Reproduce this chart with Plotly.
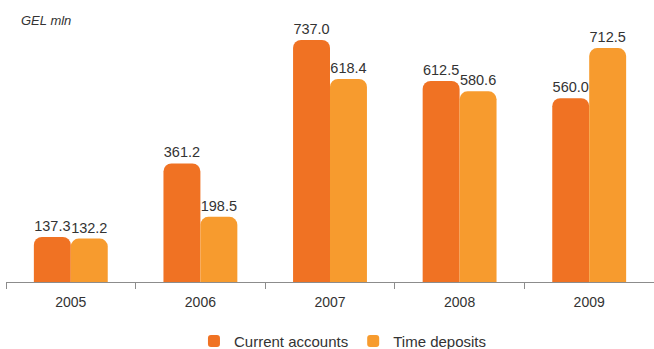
import plotly.graph_objects as go

# Deposits by type, GEL mln
years = ["2005", "2006", "2007", "2008", "2009"]
current_accounts = [137.3, 361.2, 737.0, 612.5, 560.0]
time_deposits = [132.2, 198.5, 618.4, 580.6, 712.5]

FONT = "Liberation Sans, Arial, Helvetica, sans-serif"
TEXT = "#333333"

fig = go.Figure()
fig.add_trace(go.Bar(
    name="Current accounts", x=years, y=current_accounts,
    marker=dict(color="#F07223", cornerradius=8, line=dict(width=0)),
    text=[f"{v:.1f}" for v in current_accounts], textposition="outside",
    textfont=dict(size=14.5, color=TEXT, family=FONT), cliponaxis=False,
))
fig.add_trace(go.Bar(
    name="Time deposits", x=years, y=time_deposits,
    marker=dict(color="#F79B2E", cornerradius=8, line=dict(width=0)),
    text=[f"{v:.1f}" for v in time_deposits], textposition="outside",
    textfont=dict(size=14.5, color=TEXT, family=FONT), cliponaxis=False,
))

fig.update_layout(
    width=654, height=349,
    margin=dict(l=6, r=0, t=19, b=67, autoexpand=False),
    paper_bgcolor="white", plot_bgcolor="white",
    barmode="group", bargap=0.43, bargroupgap=0,
    font=dict(family=FONT, color=TEXT, size=14),
    showlegend=True,
    legend=dict(orientation="h", x=0.52, xanchor="center",
                yref="container", y=0.022, yanchor="middle",
                font=dict(size=15, color=TEXT), itemwidth=30, traceorder="normal"),
    xaxis=dict(showline=True, linecolor="#8c8c8c", linewidth=1, automargin=False,
               ticks="outside", tickson="boundaries", ticklen=6, tickcolor="#8c8c8c",
               ticklabelstandoff=7,
               tickfont=dict(size=14, color=TEXT), showgrid=False),
    yaxis=dict(range=[0, 801], visible=False, showgrid=False, zeroline=False),
    annotations=[dict(text="<i>GEL mln</i>", xref="paper", yref="paper",
                      x=(19 - 6) / 648, xanchor="left", y=1 + (19 - 21) / 263, yanchor="middle",
                      showarrow=False, font=dict(size=13, color=TEXT))],
)

fig.write_html("out.html")
